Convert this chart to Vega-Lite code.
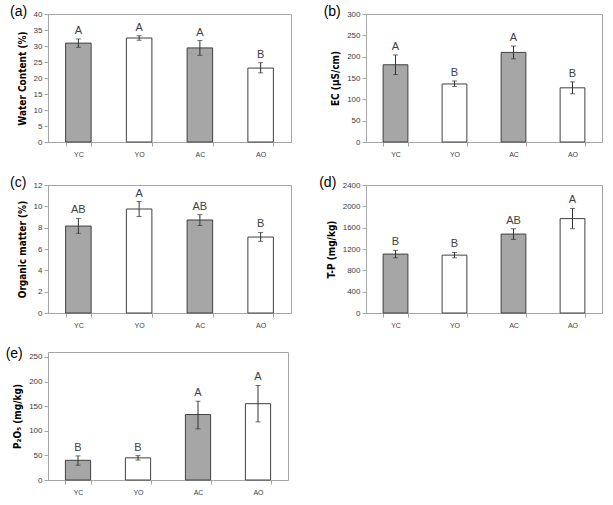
{
  "$schema": "https://vega.github.io/schema/vega-lite/v6.json",
  "padding": {"left": 5, "right": 5, "top": 4, "bottom": 2},
  "columns": 2,
  "spacing": {"row": 17, "column": 26},
  "data": {"values": [
    {"panel": "a", "group": "YC", "mean": 30.9, "lo": 29.6, "hi": 32.2, "letter": "A"},
    {"panel": "a", "group": "YO", "mean": 32.5, "lo": 31.8, "hi": 33.2, "letter": "A"},
    {"panel": "a", "group": "AC", "mean": 29.4, "lo": 27.1, "hi": 31.7, "letter": "A"},
    {"panel": "a", "group": "AO", "mean": 23.1, "lo": 21.6, "hi": 24.8, "letter": "B"},
    {"panel": "b", "group": "YC", "mean": 181, "lo": 158, "hi": 204, "letter": "A"},
    {"panel": "b", "group": "YO", "mean": 136, "lo": 130, "hi": 143, "letter": "B"},
    {"panel": "b", "group": "AC", "mean": 210, "lo": 195, "hi": 225, "letter": "A"},
    {"panel": "b", "group": "AO", "mean": 127, "lo": 113, "hi": 141, "letter": "B"},
    {"panel": "c", "group": "YC", "mean": 8.15, "lo": 7.47, "hi": 8.87, "letter": "AB"},
    {"panel": "c", "group": "YO", "mean": 9.75, "lo": 9.05, "hi": 10.45, "letter": "A"},
    {"panel": "c", "group": "AC", "mean": 8.72, "lo": 8.2, "hi": 9.22, "letter": "AB"},
    {"panel": "c", "group": "AO", "mean": 7.12, "lo": 6.72, "hi": 7.55, "letter": "B"},
    {"panel": "d", "group": "YC", "mean": 1105, "lo": 1035, "hi": 1175, "letter": "B"},
    {"panel": "d", "group": "YO", "mean": 1085, "lo": 1035, "hi": 1135, "letter": "B"},
    {"panel": "d", "group": "AC", "mean": 1480, "lo": 1380, "hi": 1580, "letter": "AB"},
    {"panel": "d", "group": "AO", "mean": 1770, "lo": 1580, "hi": 1960, "letter": "A"},
    {"panel": "e", "group": "YC", "mean": 40, "lo": 30, "hi": 49, "letter": "B"},
    {"panel": "e", "group": "YO", "mean": 45, "lo": 40.5, "hi": 49.5, "letter": "B"},
    {"panel": "e", "group": "AC", "mean": 133, "lo": 104, "hi": 160, "letter": "A"},
    {"panel": "e", "group": "AO", "mean": 155, "lo": 118, "hi": 192, "letter": "A"}
  ]},
  "config": {
    "font": "Liberation Sans",
    "view": {"stroke": "#a6a6a6", "strokeWidth": 1},
    "axis": {"domainColor": "#a6a6a6", "tickColor": "#a6a6a6", "labelColor": "#404040", "labelFont": "Liberation Sans", "labelFontSize": 8, "grid": false, "titleFont": "'DejaVu Sans Condensed', 'Liberation Sans Narrow', 'Liberation Sans', sans-serif", "titleFontSize": 10, "titleFontWeight": "bold", "titleColor": "#000000", "tickSize": 4, "titlePadding": 6, "labelOverlap": false},
    "axisX": {"labelFontSize": 7, "labelPadding": 4},
    "title": {"anchor": "start", "frame": "bounds", "fontSize": 14, "fontWeight": "normal", "offset": -9, "font": "Liberation Sans", "color": "#000000", "dx": -7}
  },
  "concat": [
    {
      "title": "(a)", "width": 243, "height": 128,
      "transform": [{"filter": "datum.panel == 'a'"}],
      "encoding": {"x": {"field": "group", "type": "nominal", "sort": ["YC", "YO", "AC", "AO"], "scale": {"paddingInner": 0.58, "paddingOuter": 0.29}, "axis": {"title": null, "labelAngle": 0, "tickBand": "extent"}}},
      "layer": [
        {"mark": {"type": "bar", "stroke": "#404040", "strokeWidth": 1}, "encoding": {"y": {"field": "mean", "type": "quantitative", "title": "Water Content (%)", "scale": {"domain": [0, 40]}, "axis": {"values": [0, 5, 10, 15, 20, 25, 30, 35, 40]}}, "fill": {"field": "group", "type": "nominal", "scale": {"domain": ["YC", "YO", "AC", "AO"], "range": ["#a6a6a6", "#ffffff", "#a6a6a6", "#ffffff"]}, "legend": null}}},
        {"mark": {"type": "errorbar", "ticks": {"size": 5}, "color": "#333333"}, "encoding": {"y": {"field": "lo", "type": "quantitative", "title": "Water Content (%)", "axis": {"values": [0, 5, 10, 15, 20, 25, 30, 35, 40]}}, "y2": {"field": "hi"}}},
        {"mark": {"type": "text", "baseline": "bottom", "dy": -3, "fontSize": 11, "color": "#404040"}, "encoding": {"y": {"field": "hi", "type": "quantitative", "title": "Water Content (%)", "axis": {"values": [0, 5, 10, 15, 20, 25, 30, 35, 40]}}, "text": {"field": "letter"}}}
      ]
    },
    {
      "title": "(b)", "width": 236, "height": 128,
      "transform": [{"filter": "datum.panel == 'b'"}],
      "encoding": {"x": {"field": "group", "type": "nominal", "sort": ["YC", "YO", "AC", "AO"], "scale": {"paddingInner": 0.58, "paddingOuter": 0.29}, "axis": {"title": null, "labelAngle": 0, "tickBand": "extent"}}},
      "layer": [
        {"mark": {"type": "bar", "stroke": "#404040", "strokeWidth": 1}, "encoding": {"y": {"field": "mean", "type": "quantitative", "title": "EC (μS/cm)", "scale": {"domain": [0, 300]}, "axis": {"values": [0, 50, 100, 150, 200, 250, 300]}}, "fill": {"field": "group", "type": "nominal", "scale": {"domain": ["YC", "YO", "AC", "AO"], "range": ["#a6a6a6", "#ffffff", "#a6a6a6", "#ffffff"]}, "legend": null}}},
        {"mark": {"type": "errorbar", "ticks": {"size": 5}, "color": "#333333"}, "encoding": {"y": {"field": "lo", "type": "quantitative", "title": "EC (μS/cm)", "axis": {"values": [0, 50, 100, 150, 200, 250, 300]}}, "y2": {"field": "hi"}}},
        {"mark": {"type": "text", "baseline": "bottom", "dy": -3, "fontSize": 11, "color": "#404040"}, "encoding": {"y": {"field": "hi", "type": "quantitative", "title": "EC (μS/cm)", "axis": {"values": [0, 50, 100, 150, 200, 250, 300]}}, "text": {"field": "letter"}}}
      ]
    },
    {
      "title": "(c)", "width": 243, "height": 128,
      "transform": [{"filter": "datum.panel == 'c'"}],
      "encoding": {"x": {"field": "group", "type": "nominal", "sort": ["YC", "YO", "AC", "AO"], "scale": {"paddingInner": 0.58, "paddingOuter": 0.29}, "axis": {"title": null, "labelAngle": 0, "tickBand": "extent"}}},
      "layer": [
        {"mark": {"type": "bar", "stroke": "#404040", "strokeWidth": 1}, "encoding": {"y": {"field": "mean", "type": "quantitative", "title": "Organic matter (%)", "scale": {"domain": [0, 12]}, "axis": {"values": [0, 2, 4, 6, 8, 10, 12]}}, "fill": {"field": "group", "type": "nominal", "scale": {"domain": ["YC", "YO", "AC", "AO"], "range": ["#a6a6a6", "#ffffff", "#a6a6a6", "#ffffff"]}, "legend": null}}},
        {"mark": {"type": "errorbar", "ticks": {"size": 5}, "color": "#333333"}, "encoding": {"y": {"field": "lo", "type": "quantitative", "title": "Organic matter (%)", "axis": {"values": [0, 2, 4, 6, 8, 10, 12]}}, "y2": {"field": "hi"}}},
        {"mark": {"type": "text", "baseline": "bottom", "dy": -3, "fontSize": 11, "color": "#404040"}, "encoding": {"y": {"field": "hi", "type": "quantitative", "title": "Organic matter (%)", "axis": {"values": [0, 2, 4, 6, 8, 10, 12]}}, "text": {"field": "letter"}}}
      ]
    },
    {
      "title": "(d)", "width": 236, "height": 128,
      "transform": [{"filter": "datum.panel == 'd'"}],
      "encoding": {"x": {"field": "group", "type": "nominal", "sort": ["YC", "YO", "AC", "AO"], "scale": {"paddingInner": 0.58, "paddingOuter": 0.29}, "axis": {"title": null, "labelAngle": 0, "tickBand": "extent"}}},
      "layer": [
        {"mark": {"type": "bar", "stroke": "#404040", "strokeWidth": 1}, "encoding": {"y": {"field": "mean", "type": "quantitative", "title": "T-P (mg/kg)", "scale": {"domain": [0, 2400]}, "axis": {"values": [0, 400, 800, 1200, 1600, 2000, 2400], "format": "d"}}, "fill": {"field": "group", "type": "nominal", "scale": {"domain": ["YC", "YO", "AC", "AO"], "range": ["#a6a6a6", "#ffffff", "#a6a6a6", "#ffffff"]}, "legend": null}}},
        {"mark": {"type": "errorbar", "ticks": {"size": 5}, "color": "#333333"}, "encoding": {"y": {"field": "lo", "type": "quantitative", "title": "T-P (mg/kg)", "axis": {"values": [0, 400, 800, 1200, 1600, 2000, 2400], "format": "d"}}, "y2": {"field": "hi"}}},
        {"mark": {"type": "text", "baseline": "bottom", "dy": -3, "fontSize": 11, "color": "#404040"}, "encoding": {"y": {"field": "hi", "type": "quantitative", "title": "T-P (mg/kg)", "axis": {"values": [0, 400, 800, 1200, 1600, 2000, 2400], "format": "d"}}, "text": {"field": "letter"}}}
      ]
    },
    {
      "title": "(e)", "width": 240, "height": 128,
      "transform": [{"filter": "datum.panel == 'e'"}],
      "encoding": {"x": {"field": "group", "type": "nominal", "sort": ["YC", "YO", "AC", "AO"], "scale": {"paddingInner": 0.58, "paddingOuter": 0.29}, "axis": {"title": null, "labelAngle": 0, "tickBand": "extent"}}},
      "layer": [
        {"mark": {"type": "bar", "stroke": "#404040", "strokeWidth": 1}, "encoding": {"y": {"field": "mean", "type": "quantitative", "title": "P₂O₅ (mg/kg)", "scale": {"domain": [0, 250]}, "axis": {"values": [0, 50, 100, 150, 200, 250]}}, "fill": {"field": "group", "type": "nominal", "scale": {"domain": ["YC", "YO", "AC", "AO"], "range": ["#a6a6a6", "#ffffff", "#a6a6a6", "#ffffff"]}, "legend": null}}},
        {"mark": {"type": "errorbar", "ticks": {"size": 5}, "color": "#333333"}, "encoding": {"y": {"field": "lo", "type": "quantitative", "title": "P₂O₅ (mg/kg)", "axis": {"values": [0, 50, 100, 150, 200, 250]}}, "y2": {"field": "hi"}}},
        {"mark": {"type": "text", "baseline": "bottom", "dy": -3, "fontSize": 11, "color": "#404040"}, "encoding": {"y": {"field": "hi", "type": "quantitative", "title": "P₂O₅ (mg/kg)", "axis": {"values": [0, 50, 100, 150, 200, 250]}}, "text": {"field": "letter"}}}
      ]
    }
  ]
}
